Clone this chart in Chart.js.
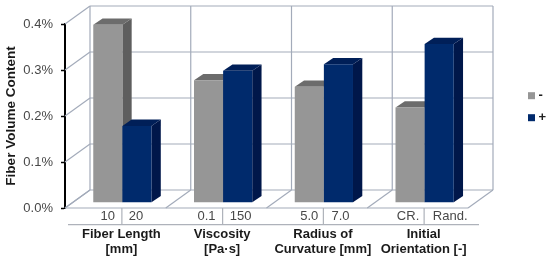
<!DOCTYPE html>
<html>
<head>
<meta charset="utf-8">
<style>html,body{margin:0;padding:0;background:#fff}#w{width:550px;height:259px;position:relative}</style>
<script src="https://cdn.jsdelivr.net/npm/chart.js@4"></script>
</head>
<body>
<div id="w"><canvas id="c"></canvas></div>
<script>
const categories = [["Fiber Length","[mm]"],["Viscosity","[Pa·s]"],["Radius of","Curvature [mm]"],["Initial","Orientation [-]"]];
const lowLabels = ["10","0.1","5.0","CR."];
const highLabels = ["20","150","7.0","Rand."];
const lowValues = [0.387,0.266,0.252,0.207];
const highValues = [0.167,0.287,0.301,0.345];
const seriesNames = ["-","+"];
const yTicks = [0,0.1,0.2,0.3,0.4];

const gridCol = "#a3abba";
const depth = {wallX:25, wallY:-18, barX:7, barY:-5.3, sideX:9.3, sideY:-6.3};
const shades = [{front:"#969696",side:"#5e5e5e",top:"#6c6c6c"},{front:"#002a6c",side:"#00174a",top:"#001f58"}];

function line(ctx,x1,y1,x2,y2){ctx.beginPath();ctx.moveTo(x1,y1);ctx.lineTo(x2,y2);ctx.stroke();}
function poly(ctx,pts,col){ctx.fillStyle=col;ctx.beginPath();pts.forEach((p,i)=>i?ctx.lineTo(p[0],p[1]):ctx.moveTo(p[0],p[1]));ctx.closePath();ctx.fill();}

const scene = {
  id:"scene",
  beforeDatasetDraw(){return false;},
  beforeDatasetsDraw(chart){
    const {ctx,chartArea:a,scales:{x,y}} = chart;
    const n = categories.length, step = (a.right-a.left)/n;
    ctx.save();
    ctx.strokeStyle = gridCol; ctx.lineWidth = 1.2;
    yTicks.forEach(v=>{
      const py = y.getPixelForValue(v);
      line(ctx,a.left,py,a.left+depth.wallX,py+depth.wallY);
      line(ctx,a.left+depth.wallX,py+depth.wallY,a.right+depth.wallX,py+depth.wallY);
    });
    for(let i=0;i<=n;i++){
      const fx = a.left+i*step, bx = fx+depth.wallX;
      line(ctx,bx,a.top+depth.wallY,bx,a.bottom+depth.wallY);
      line(ctx,fx,a.bottom,bx,a.bottom+depth.wallY);
    }
    line(ctx,a.left,a.bottom,a.right,a.bottom);
    ctx.strokeStyle = "#aeb2ba";
    line(ctx,a.left+3,a.bottom+16.7,a.right+11,a.bottom+16.7);
    categories.forEach((c,i)=>{
      const sx = x.getPixelForValue(i)+6.5;
      line(ctx,sx,a.bottom,sx,a.bottom+16.7);
    });
    const m0 = chart.getDatasetMeta(0), m1 = chart.getDatasetMeta(1);
    ctx.translate(depth.barX,depth.barY);
    categories.forEach((c,i)=>{
      [m0,m1].forEach((m,k)=>{
        const b = m.data[i], L=b.x-b.width/2, R=b.x+b.width/2, T=b.y, B=b.base, dx=depth.sideX, dy=depth.sideY, s=shades[k];
        poly(ctx,[[R,T],[R+dx,T+dy],[R+dx,B+dy],[R,B]],s.side);
        poly(ctx,[[L,T],[L+dx,T+dy],[R+dx,T+dy],[R,T]],s.top);
        b.draw(ctx);
      });
    });
    ctx.restore();
  },
  afterDraw(chart){
    const {ctx,chartArea:a} = chart;
    ctx.save();
    ctx.font = "13px 'Liberation Sans'"; ctx.fillStyle = "#484848";
    ctx.textBaseline = "middle"; ctx.textAlign = "center";
    const highShift = [-1,3,2,11];
    const lowShift = [0,-2,0,-2];
    const m0 = chart.getDatasetMeta(0), m1 = chart.getDatasetMeta(1);
    categories.forEach((c,i)=>{
      ctx.fillText(lowLabels[i],m0.data[i].x+depth.barX+lowShift[i],a.bottom+8.5);
      ctx.fillText(highLabels[i],m1.data[i].x+depth.barX+highShift[i],a.bottom+8.5);
    });
    [95.7,117.7].forEach((cy,k)=>{
      ctx.fillStyle = shades[k].front; ctx.fillRect(528,cy-3.5,7,7);
      ctx.fillStyle = "#202020"; ctx.font = "bold 13px 'Liberation Sans'"; ctx.textAlign="left";
      ctx.fillText(seriesNames[k],538.5,cy);
    });
    ctx.restore();
  }
};

new Chart(document.getElementById("c"),{
  type:"bar",
  data:{labels:categories,datasets:[
    {label:seriesNames[0],data:lowValues,backgroundColor:shades[0].front},
    {label:seriesNames[1],data:highValues,backgroundColor:shades[1].front}
  ]},
  options:{
    responsive:true,maintainAspectRatio:false,animation:false,
    layout:{padding:{left:3,right:82,top:24,bottom:0}},
    datasets:{bar:{categoryPercentage:0.578,barPercentage:1,borderWidth:0}},
    plugins:{legend:{display:false},tooltip:{enabled:false}},
    scales:{
      x:{
        grid:{display:false},border:{display:false},
        ticks:{autoSkip:false,maxRotation:0,minRotation:0,padding:11,labelOffset:6,color:"#1a1a1a",
          font:{family:"'Liberation Sans'",size:13,weight:"bold",lineHeight:1.17}},
        afterFit(s){s.height=51;}
      },
      y:{
        min:0,max:0.4,
        afterBuildTicks(s){s.ticks=yTicks.map(v=>({value:v}));},
        grid:{drawOnChartArea:false,drawTicks:true,tickLength:4,color:"#000",tickWidth:1.5},
        border:{display:true,color:"#000",width:2},
        ticks:{padding:8,color:"#484848",font:{family:"'Liberation Sans'",size:13},callback:v=>v.toFixed(1)+"%"},
        title:{display:true,text:"Fiber Volume Content",color:"#1a1a1a",padding:{top:0,bottom:0},
          font:{family:"'Liberation Sans'",size:13.5,weight:"bold"}},
        afterFit(s){s.width=62;}
      }
    }
  },
  plugins:[scene]
});
</script>
</body>
</html>
